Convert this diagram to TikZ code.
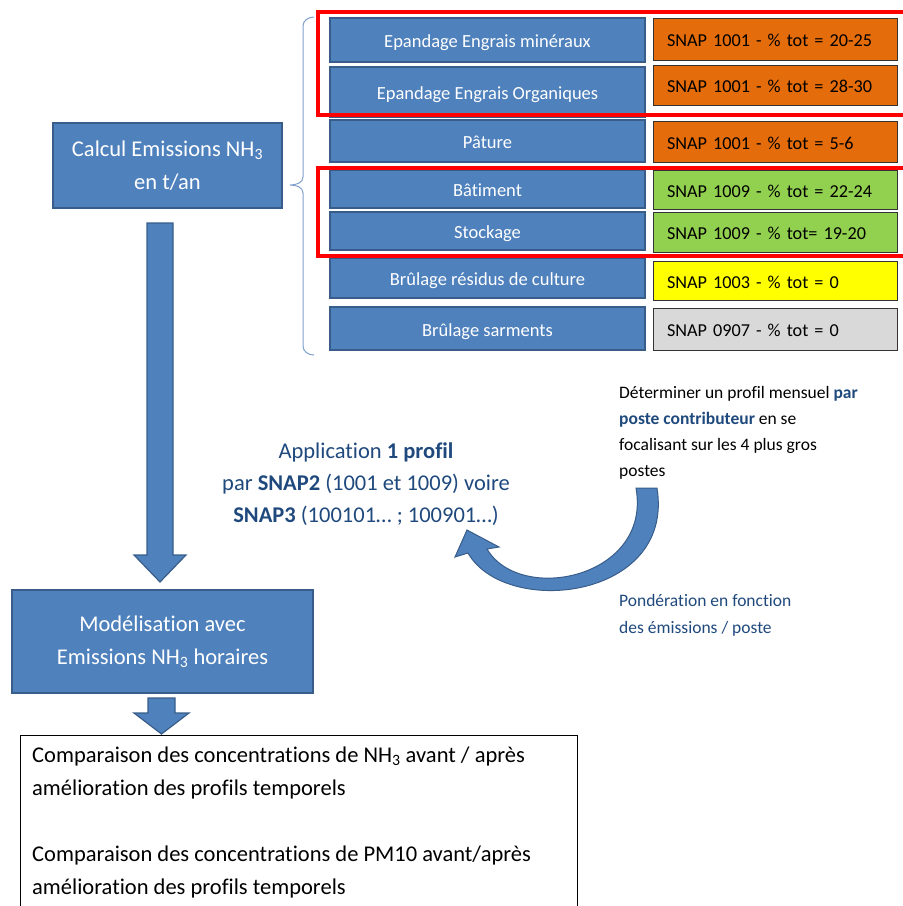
\documentclass[tikz,border=0pt]{standalone}
\usepackage{fontspec}
\setmainfont[Ligatures={NoCommon}]{Carlito}
\usetikzlibrary{calc}
\definecolor{boxblue}{HTML}{4F81BD}
\definecolor{boxedge}{HTML}{385D8A}
\definecolor{darkblue}{HTML}{1F497D}
\definecolor{snaporange}{HTML}{E46C0A}
\definecolor{snapgreen}{HTML}{92D050}
\definecolor{snapyellow}{HTML}{FFFF00}
\definecolor{snapgray}{HTML}{D9D9D9}
\definecolor{bracecol}{HTML}{7FA0CC}
\begin{document}
\begin{tikzpicture}[x=1pt,y=-1pt,
  bigblue/.style={draw=boxedge, line width=1.6pt, fill=boxblue, text=white, inner sep=0pt, align=center, font=\fontsize{22.5}{33}\selectfont},
  bluebox/.style={draw=boxedge, line width=1.6pt, fill=boxblue, text=white, inner sep=0pt, minimum width=315pt, text height=16pt, text depth=1pt, font=\fontsize{18.5}{22}\selectfont},
  snapbox/.style={draw=black!80, line width=0.8pt, fill=#1, inner sep=0pt, minimum width=244pt, text width=216pt, text height=16pt, text depth=1pt, align=left, font=\fontsize{18.2}{22}\selectfont},
  redframe/.style={draw=red, line width=3.2pt},
  blockarrow/.style={fill=boxblue, draw=boxedge, line width=1.2pt, line join=miter},
  notetext/.style={inner sep=0pt, align=left, font=\fontsize{17.5}{26}\selectfont}
]
\useasboundingbox (0,0) rectangle (903,906);

% left boxes
\node[bigblue, minimum width=229pt, minimum height=85pt] (calc) at (167.5,165.5) {Calcul Emissions NH\textsubscript{3}\\en t/an};
\node[bigblue, minimum width=301pt, minimum height=103pt] (model) at (162.5,641.5) {Modélisation avec\\Emissions NH\textsubscript{3} horaires};

% source boxes
\node[bluebox, minimum height=44pt] (b1) at (487.5,40) {Epandage Engrais minéraux};
\node[bluebox, minimum height=50pt] (b2) at (487.5,92) {Epandage Engrais Organiques};
\node[bluebox, minimum height=42pt] (b3) at (487.5,141) {Pâture};
\node[bluebox, minimum height=38pt] (b4) at (487.5,189) {Bâtiment};
\node[bluebox, minimum height=38pt] (b5) at (487.5,231) {Stockage};
\node[bluebox, minimum height=40pt] (b6) at (487.5,278) {Brûlage résidus de culture};
\node[bluebox, minimum height=43pt] (b7) at (487.5,328.5) {Brûlage sarments};

\node[snapbox=snaporange, minimum height=42pt] (s1) at (775,39) {SNAP 1001 - \% tot = 20-25};
\node[snapbox=snaporange, minimum height=40pt] (s2) at (775,85) {SNAP 1001 - \% tot = 28-30};
\node[snapbox=snaporange, minimum height=41pt] (s3) at (775,141.5) {SNAP 1001 - \% tot = 5-6};
\node[snapbox=snapgreen, minimum height=39pt] (s4) at (775,189.5) {SNAP 1009 - \% tot = 22-24};
\node[snapbox=snapgreen, minimum height=40pt] (s5) at (775,232) {SNAP 1009 - \% tot= 19-20};
\node[snapbox=snapyellow, minimum height=39pt] (s6) at (775,280.5) {SNAP 1003 - \% tot = 0};
\node[snapbox=snapgray, minimum height=42pt] (s7) at (775,329) {SNAP 0907 - \% tot = 0};

% red frames
\draw[redframe] (910,12) -- (318,12) -- (318,115) -- (910,115);
\draw[redframe] (910,168) -- (318,168) -- (318,256) -- (910,256);

% brace
\draw[bracecol, line width=1pt] (314,17) to[out=180,in=90] (303,26) -- (303,177) to[out=-90,in=0] (290,185)
  to[out=0,in=90] (303,193) -- (303,346) to[out=-90,in=180] (314,355);

% straight block arrows
\draw[blockarrow] (147,223) -- (173,223) -- (173,555) -- (186,555) -- (160,582) -- (134,555) -- (147,555) -- cycle;
\draw[blockarrow] (148,698) -- (175,698) -- (175,713) -- (189,713) -- (161.5,734) -- (134,713) -- (148,713) -- cycle;

% bottom box
\draw[black, line width=1pt] (20,908) -- (20,735) -- (577,735) -- (577,908);
\node[inner sep=0pt, anchor=west, align=left, font=\fontsize{22.5}{33}\selectfont] (cmp) at (32,822.5)
  {Comparaison des concentrations de NH\textsubscript{3} avant / après\\amélioration des profils temporels\\[33pt]Comparaison des concentrations de PM10 avant/après\\amélioration des profils temporels};

% middle text
\node[inner sep=0pt, align=center, text=darkblue, font=\fontsize{22.5}{32}\selectfont] (appl) at (366,484)
  {Application \textbf{1 profil}\\par \textbf{SNAP2} (1001 et 1009) voire\\\textbf{SNAP3} (100101… ; 100901…)};

% notes
\node[notetext, anchor=west] (det) at (619,433)
  {Déterminer un profil mensuel \textcolor{darkblue}{\textbf{par}}\\\textcolor{darkblue}{\textbf{poste contributeur}} en se\\focalisant sur les 4 plus gros\\postes};
\node[notetext, anchor=west, text=darkblue, font=\fontsize{17.5}{27}\selectfont] (pond) at (619,615.5)
  {Pondération en fonction\\des émissions / poste};

% curved arrow
\draw[blockarrow, line width=1pt] (636,488) -- (657,488) .. controls (675,600) and (505,618) .. (468,553)
  -- (455,557) -- (467,530) -- (499,547) -- (487,549) .. controls (520,605) and (652,578) .. (636,488) -- cycle;
\end{tikzpicture}
\end{document}
